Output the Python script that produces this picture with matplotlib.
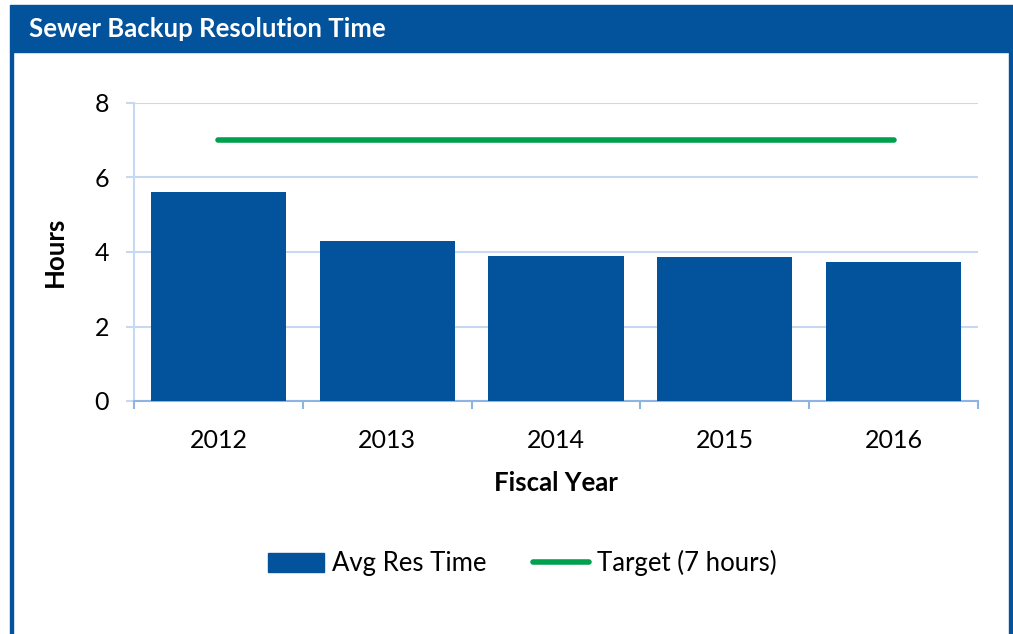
import matplotlib.pyplot as plt
from matplotlib.patches import Rectangle, Patch
from matplotlib.lines import Line2D

# data
years = ['2012', '2013', '2014', '2015', '2016']
avg_res_time = [5.6, 4.3, 3.9, 3.87, 3.72]
target = [7, 7, 7, 7, 7]

blue = '#02529C'
green = '#00A04F'
grid_c = '#C6D9F1'
axis_c = '#8EB4E3'

plt.rcParams['font.family'] = ['Lato', 'DejaVu Sans']

fig = plt.figure(figsize=(10.13, 6.34), dpi=100)
W, H = 1013, 634

# frame and title bar
fig.patches.append(Rectangle((10 / W, 1 - 52 / H), 1 - 10 / W, 47 / H,
                             transform=fig.transFigure, color=blue, zorder=0))
fig.patches.append(Rectangle((10 / W, 0), 3 / W, 1 - 52 / H,
                             transform=fig.transFigure, color=blue, zorder=0))
fig.patches.append(Rectangle((1009 / W, 0), 3 / W, 1 - 52 / H,
                             transform=fig.transFigure, color=blue, zorder=0))
fig.text(29 / W, 1 - 29 / H, 'Sewer Backup Resolution Time', color='white',
         fontsize=18.5, fontweight='bold', va='center', ha='left')

ax = fig.add_axes([134 / W, 1 - 401 / H, 844 / W, 298 / H])
x = list(range(len(years)))
ax.bar(x, avg_res_time, width=0.8, color=blue, zorder=3)
ax.plot(x, target, color=green, lw=4, solid_capstyle='round', zorder=4)

ax.set_xlim(-0.5, len(years) - 0.5)
ax.set_ylim(0, 8)
ax.set_yticks([0, 2, 4, 6, 8])
ax.yaxis.grid(True, color=grid_c, lw=1.5, zorder=0)
ax.set_axisbelow(True)

ax.set_xticks(x)
ax.set_xticklabels(years)
ax.set_xticks([i - 0.5 for i in range(len(years) + 1)], minor=True)
ax.tick_params(axis='x', which='major', length=0, pad=20, labelsize=18)
ax.tick_params(axis='x', which='minor', length=6, width=1.5, color=axis_c, direction='out')
ax.tick_params(axis='y', length=6, width=1.5, color=grid_c, labelsize=18, pad=12)

for s in ['top', 'right']:
    ax.spines[s].set_visible(False)
ax.spines['left'].set_color(grid_c)
ax.spines['left'].set_linewidth(1.5)
ax.spines['bottom'].set_color(axis_c)
ax.spines['bottom'].set_linewidth(1.5)

ax.set_xlabel('Fiscal Year', fontsize=18.5, fontweight='bold', labelpad=14)
ax.set_ylabel('Hours', fontsize=18.5, fontweight='bold', labelpad=20)

handles = [Patch(color=blue), Line2D([], [], color=green, lw=4, solid_capstyle='round')]
fig.legend(handles, ['Avg Res Time', 'Target (7 hours)'], loc='center',
           bbox_to_anchor=(522 / W, 1 - 563 / H), ncol=2, frameon=False,
           fontsize=18.5, handlelength=2.2, handleheight=0.75, handletextpad=0.3,
           columnspacing=1.8)

fig.savefig('out.png', dpi=100)
